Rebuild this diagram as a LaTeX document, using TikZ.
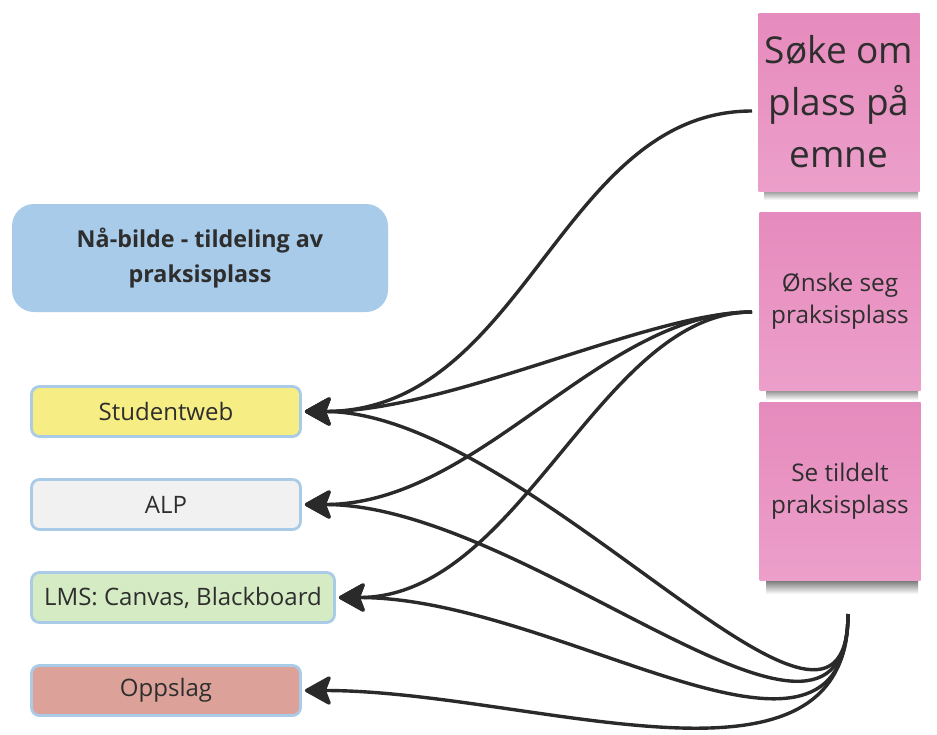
\documentclass[tikz,border=0pt]{standalone}
\usepackage{fontspec}
\setmainfont{Open Sans}
\usetikzlibrary{arrows.meta,calc}
\definecolor{ink}{HTML}{2A2A2A}
\definecolor{txt}{HTML}{2E2E2E}
\definecolor{edgeblue}{HTML}{A9CBE8}
\definecolor{titleblue}{HTML}{A8CBEA}
\definecolor{swyellow}{HTML}{F6EE85}
\definecolor{alpgrey}{HTML}{F1F1F1}
\definecolor{lmsgreen}{HTML}{D5EBC3}
\definecolor{opred}{HTML}{DCA299}
\definecolor{pinktop}{HTML}{E68BBD}
\definecolor{pinkbot}{HTML}{EC9FCA}
\tikzset{
  sysbox/.style={draw=edgeblue, line width=2.8pt, rounded corners=8pt,
    minimum height=50pt, inner sep=0pt, text=txt,
    font=\fontsize{24}{28}\selectfont},
  titlebox/.style={fill=titleblue, rounded corners=22pt, minimum width=376pt,
    minimum height=108pt, align=center, text=txt, inner sep=0pt,
    font=\bfseries\fontsize{23.3}{35}\selectfont},
  sticky/.style={top color=pinktop, bottom color=pinkbot, minimum width=161pt,
    minimum height=178pt, inner sep=0pt, align=center, text=txt},
  stickyshadow/.style={top color=black!55, bottom color=white, draw=none},
  conn/.style={draw=ink, line width=3.4pt,
    -{Stealth[length=29pt,width=32pt,inset=6pt,round]}},
}
\begin{document}
\begin{tikzpicture}[x=1pt,y=-1pt]
\useasboundingbox (0,0) rectangle (937,734);
\fill[white] (0,0) rectangle (937,734);

% title
\node[titlebox] (title) at (200,258) {Nå-bilde - tildeling av\\praksisplass};

% systems
\node[sysbox, fill=swyellow, minimum width=269pt] (sw) at (166,411.5) {Studentweb};
\node[sysbox, fill=alpgrey, minimum width=269pt] (alp) at (166,504.5) {ALP};
\node[sysbox, fill=lmsgreen, minimum width=303pt] (lms) at (183,597.5) {LMS: Canvas, Blackboard};
\node[sysbox, fill=opred, minimum width=269pt] (opp) at (166,690.5) {Oppslag};

% sticky shadows
\shade[stickyshadow] (764,188) rectangle (918,200);
\shade[stickyshadow] (766,388) rectangle (918,400);
\shade[stickyshadow] (766,580) rectangle (918,594);

% sticky notes
\node[sticky, font=\fontsize{37}{52}\selectfont] (soke) at (839,102) {Søke om\\plass på\\emne};
\node[sticky, font=\fontsize{24.3}{32}\selectfont] (onske) at (840,301) {Ønske seg\\praksisplass};
\node[sticky, font=\fontsize{24.3}{32}\selectfont] (setild) at (840,491) {Se tildelt\\praksisplass};

% free ends of the connectors
\coordinate (s1) at (752,111);
\coordinate (s2) at (752,312);
\coordinate (s3) at (848,614);

% arrow tips
\coordinate (tsw) at ([xshift=3pt]sw.east);
\coordinate (talp) at ([xshift=3pt]alp.east);
\coordinate (tlms) at ([xshift=3pt]lms.east);
\coordinate (topp) at ([xshift=3pt]opp.east);

% connectors
\draw[conn] (s1) .. controls ($(s1)+(-192,0)$) and ($(tsw)+(220,0)$) .. (tsw);
\draw[conn] (s2) .. controls ($(s2)+(-102,0)$) and ($(tsw)+(145,0)$) .. (tsw);
\draw[conn] (s2) .. controls ($(s2)+(-152,0)$) and ($(talp)+(175,0)$) .. (talp);
\draw[conn] (s2) .. controls ($(s2)+(-152,0)$) and ($(tlms)+(182,0)$) .. (tlms);
\draw[conn] (s3) .. controls ($(s3)+(0,200)$) and ($(tsw)+(225,0)$) .. (tsw);
\draw[conn] (s3) .. controls ($(s3)+(0,200)$) and ($(talp)+(225,0)$) .. (talp);
\draw[conn] (s3) .. controls ($(s3)+(0,200)$) and ($(tlms)+(222,0)$) .. (tlms);
\draw[conn] (s3) .. controls ($(s3)+(0,200)$) and ($(topp)+(225,0)$) .. (topp);
\end{tikzpicture}
\end{document}
